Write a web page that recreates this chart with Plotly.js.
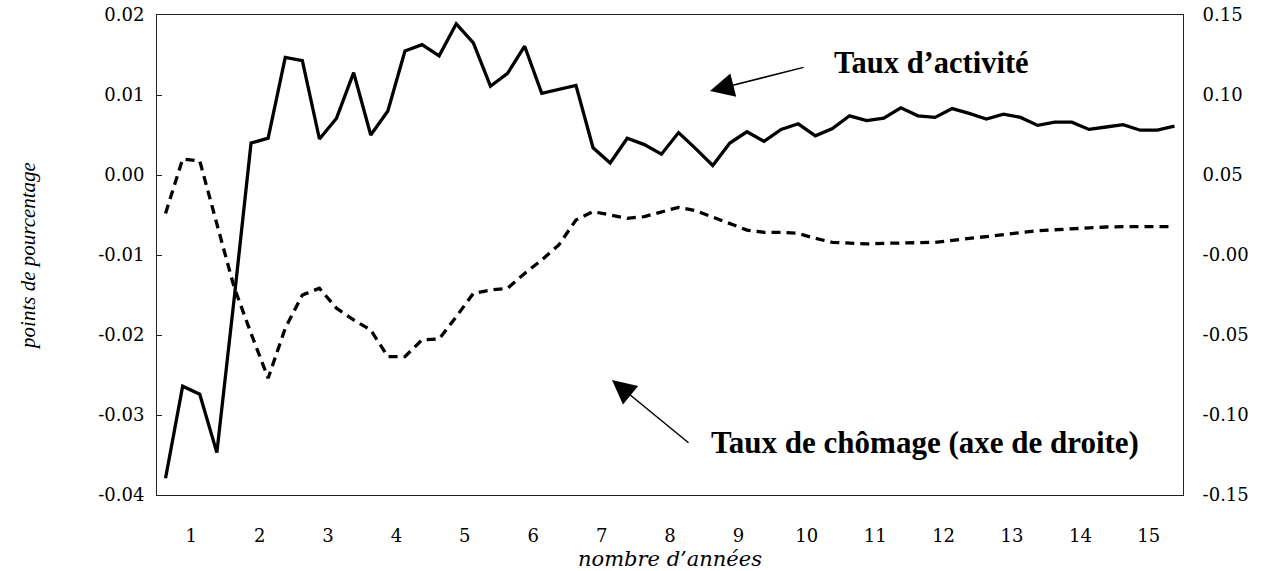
<!DOCTYPE html>
<html>
<head>
<meta charset="utf-8">
<script src="https://cdn.plot.ly/plotly-3.0.1.min.js"></script>
<style>html,body{margin:0;padding:0;background:#fff;}#chart{width:1262px;height:571px;}</style>
</head>
<body>
<div id="chart"></div>
<script>
// Quarterly responses over 15 years (4 points per year)
const tauxActivite = [
  -0.0379, -0.0264, -0.0274, -0.0347, -0.0157, 0.0040, 0.0046, 0.0147,
   0.0143,  0.0045,  0.0071,  0.0128,  0.0050, 0.0080, 0.0155, 0.0163,
   0.0149,  0.0189,  0.0165,  0.0111,  0.0127, 0.0161, 0.0102, 0.0107,
   0.0112,  0.0034,  0.0015,  0.0046,  0.0038, 0.0026, 0.0053, 0.0033,
   0.0012,  0.0040,  0.0054,  0.0042,  0.0057, 0.0064, 0.0049, 0.0058,
   0.0074,  0.0068,  0.0071,  0.0084,  0.0074, 0.0072, 0.0083, 0.0077,
   0.0070,  0.0076,  0.0072,  0.0062,  0.0066, 0.0066, 0.0057, 0.0060,
   0.0063,  0.0056,  0.0056,  0.0061
];
const tauxChomage = [
   0.0260,  0.0600,  0.0588,  0.0198, -0.0198, -0.0490, -0.0770, -0.0458,
  -0.0250, -0.0208, -0.0333, -0.0406, -0.0469, -0.0635, -0.0635, -0.0530,
  -0.0525, -0.0386, -0.0240, -0.0219, -0.0208, -0.0115, -0.0031,  0.0063,
   0.0219,  0.0271,  0.0250,  0.0229,  0.0240,  0.0267,  0.0298,  0.0277,
   0.0236,  0.0198,  0.0156,  0.0142,  0.0142,  0.0135,  0.0104,  0.0079,
   0.0073,  0.0069,  0.0073,  0.0077,  0.0077,  0.0079,  0.0094,  0.0104,
   0.0115,  0.0125,  0.0140,  0.0152,  0.0158,  0.0165,  0.0171,  0.0175,
   0.0177,  0.0177,  0.0177,  0.0177
];
const yearLabels = ['1','2','3','4','5','6','7','8','9','10','11','12','13','14','15'];
const leftTickVals = [-0.04, -0.03, -0.02, -0.01, 0.00, 0.01, 0.02];
const leftTickText = ['-0.04', '-0.03', '-0.02', '-0.01', '0.00', '0.01', '0.02'];
const rightTickVals = [-0.15, -0.10, -0.05, 0.00, 0.05, 0.10, 0.15];
const rightTickText = ['-0.15', '-0.10', '-0.05', '-0.00', '0.05', '0.10', '0.15'];

const quarterIdx = tauxActivite.map((_, i) => i);
const perYear = 4;
const yearCenters = yearLabels.map((_, k) => k * perYear + (perYear - 1) / 2);
const yearBounds = yearLabels.slice(1).map((_, k) => (k + 1) * perYear - 0.5);
const xRange = [-0.5, tauxActivite.length - 0.5];

const tickFont = {family: 'DejaVu Serif', size: 18, color: '#000'};
const axisColor = '#222';

const traces = [
  {x: quarterIdx, y: tauxActivite, xaxis: 'x', yaxis: 'y', type: 'scatter', mode: 'lines',
   line: {color: '#000', width: 3.3}, name: "Taux d'activité", hoverinfo: 'skip'},
  {x: quarterIdx, y: tauxChomage, xaxis: 'x', yaxis: 'y2', type: 'scatter', mode: 'lines',
   line: {color: '#000', width: 3.3, dash: '9px,6px'}, name: 'Taux de chômage', hoverinfo: 'skip'}
];

const layout = {
  width: 1262, height: 571,
  margin: {l: 157, r: 79, t: 15, b: 76},
  paper_bgcolor: '#fff', plot_bgcolor: '#fff',
  showlegend: false,
  xaxis: {
    range: xRange, tickmode: 'array', tickvals: yearCenters, ticktext: yearLabels,
    ticks: '', showgrid: false, zeroline: false,
    showline: true, linecolor: axisColor, linewidth: 1, mirror: true,
    tickfont: tickFont, ticklabelstandoff: 24,
    title: {text: "nombre d’années", font: {family: 'DejaVu Serif', size: 21, style: 'italic', color: '#000'}, standoff: 6}
  },
  xaxis2: {
    range: xRange, overlaying: 'x', anchor: 'y', side: 'bottom',
    tickmode: 'array', tickvals: yearBounds, showticklabels: false,
    ticks: 'inside', ticklen: 5, tickwidth: 1, tickcolor: axisColor,
    showgrid: false, zeroline: false, showline: false
  },
  yaxis: {
    range: [-0.04, 0.02], tickmode: 'array', tickvals: leftTickVals, ticktext: leftTickText,
    ticks: 'inside', ticklen: 5, tickwidth: 1, tickcolor: axisColor,
    showgrid: false, zeroline: false,
    showline: true, linecolor: axisColor, linewidth: 1,
    tickfont: tickFont, ticklabelstandoff: 8,
    title: {text: 'points de pourcentage', font: {family: 'Liberation Serif', size: 21, style: 'italic', color: '#000'}, standoff: 56}
  },
  yaxis2: {
    range: [-0.15, 0.15], overlaying: 'y', side: 'right', anchor: 'x',
    tickmode: 'array', tickvals: rightTickVals, ticktext: rightTickText,
    ticks: '', showgrid: false, zeroline: false,
    showline: true, linecolor: axisColor, linewidth: 1,
    tickfont: tickFont, ticklabelstandoff: 15
  },
  annotations: [
    {xref: 'paper', yref: 'paper', x: (832 - 157) / 1026, y: 1 - (63 - 15) / 480,
     xanchor: 'left', yanchor: 'middle', showarrow: false,
     text: "<b>Taux d’activité</b>", font: {family: 'Liberation Serif', size: 30.5, color: '#000'}},
    {xref: 'paper', yref: 'paper', x: (709 - 157) / 1026, y: 1 - (442 - 15) / 480,
     xanchor: 'left', yanchor: 'middle', showarrow: false,
     text: "<b>Taux de chômage (axe de droite)</b>", font: {family: 'Liberation Serif', size: 31, color: '#000'}},
    {xref: 'paper', yref: 'paper', x: (710 - 157) / 1026, y: 1 - (91 - 15) / 480,
     text: '', showarrow: true, arrowhead: 2, arrowsize: 3.2, arrowwidth: 1.5, arrowcolor: '#000',
     ax: 95, ay: -24},
    {xref: 'paper', yref: 'paper', x: (612 - 157) / 1026, y: 1 - (380 - 15) / 480,
     text: '', showarrow: true, arrowhead: 2, arrowsize: 3.2, arrowwidth: 1.5, arrowcolor: '#000',
     ax: 78, ay: 64}
  ]
};

Plotly.newPlot('chart', traces, layout, {displayModeBar: false, staticPlot: true});
</script>
</body>
</html>
